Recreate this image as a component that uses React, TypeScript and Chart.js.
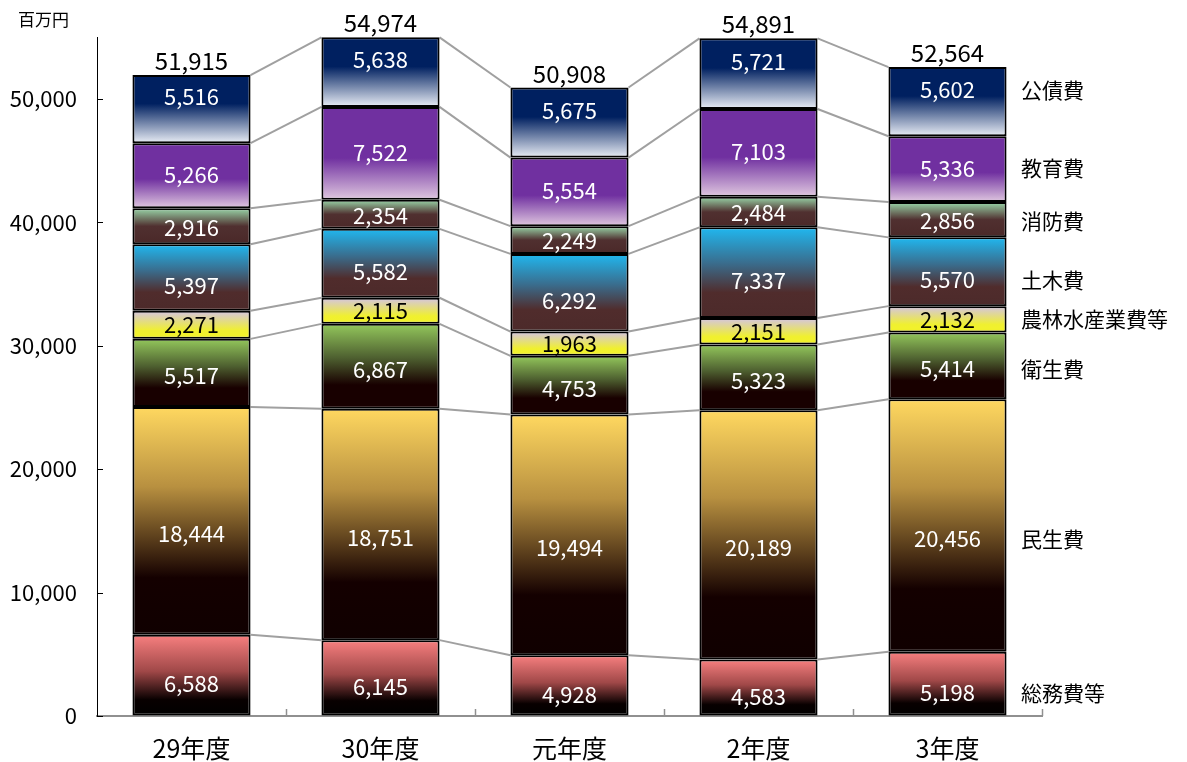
import React, { useEffect, useRef } from 'react';
import { Chart, registerables } from 'chart.js';

Chart.register(...registerables);

// ---- data ----
const CATEGORIES = ['29年度', '30年度', '元年度', '2年度', '3年度'];
const SOUMU = [6588, 6145, 4928, 4583, 5198];        // 総務費等
const MINSEI = [18444, 18751, 19494, 20189, 20456];  // 民生費
const EISEI = [5517, 6867, 4753, 5323, 5414];        // 衛生費
const NOURIN = [2271, 2115, 1963, 2151, 2132];       // 農林水産業費等
const DOBOKU = [5397, 5582, 6292, 7337, 5570];       // 土木費
const SHOUBOU = [2916, 2354, 2249, 2484, 2856];      // 消防費
const KYOUIKU = [5266, 7522, 5554, 7103, 5336];      // 教育費
const KOUSAI = [5516, 5638, 5675, 5721, 5602];       // 公債費
const TOTALS = [51915, 54974, 50908, 54891, 52564];
const SERIES_NAMES = ['総務費等', '民生費', '衛生費', '農林水産業費等', '土木費', '消防費', '教育費', '公債費'];
const SERIES_VALUES = [SOUMU, MINSEI, EISEI, NOURIN, DOBOKU, SHOUBOU, KYOUIKU, KOUSAI];
const Y_TICKS = [0, 10000, 20000, 30000, 40000, 50000];
const Y_MAX = 55000;
const UNIT_LABEL = '百万円';

// ---- styles ----
const FONT = "'Noto Sans CJK JP', 'Noto Sans', sans-serif";
const GRADIENTS: [number, string][][] = [
  [[0, '#f88080'], [0.45, '#a04848'], [0.8, '#080000'], [1, '#000000']],
  [[0, '#ffd860'], [0.35, '#b89040'], [0.75, '#140000'], [1, '#100000']],
  [[0, '#94c85c'], [0.4, '#4e6030'], [0.72, '#180000'], [1, '#180000']],
  [[0, '#d4c4e4'], [0.7, '#f0f030'], [1, '#f2f228']],
  [[0, '#20b8f0'], [0.4, '#3a6c8c'], [0.72, '#502c2c'], [1, '#4c2a2a']],
  [[0, '#9ad8aa'], [0.5, '#503030'], [1, '#4a2828']],
  [[0, '#7030a0'], [0.55, '#7030a0'], [1, '#e0c8e0']],
  [[0, '#002060'], [0.42, '#002060'], [1, '#eaeef6']],
];
const SOLID = ['#c05050', '#806020', '#406020', '#f0f030', '#2080b0', '#503030', '#7030a0', '#002060'];
const LABEL_COLORS = ['#ffffff', '#ffffff', '#ffffff', '#000000', '#ffffff', '#ffffff', '#ffffff', '#ffffff'];
const LABEL_NUDGE = [9, 13, 3, 0, 8, 1, -1, -12];

const fmt = (v: number) => v.toLocaleString('en-US');

function baseOf(ds: number, i: number) {
  let s = 0;
  for (let k = 0; k < ds; k++) s += SERIES_VALUES[k][i];
  return s;
}

const overlayPlugin = {
  id: 'overlay',
  beforeDatasetsDraw(chart: any) {
    const ctx = chart.ctx;
    const n = CATEGORIES.length;
    ctx.save();
    ctx.strokeStyle = '#a0a0a0';
    ctx.lineWidth = 2;
    for (let d = 0; d < SERIES_VALUES.length; d++) {
      const meta = chart.getDatasetMeta(d);
      for (let i = 0; i < n - 1; i++) {
        const a = meta.data[i];
        const b = meta.data[i + 1];
        ctx.beginPath();
        ctx.moveTo(a.x + a.width / 2, a.y);
        ctx.lineTo(b.x - b.width / 2, b.y);
        ctx.stroke();
      }
    }
    ctx.restore();
  },
  afterDatasetsDraw(chart: any) {
    const ctx = chart.ctx;
    const area = chart.chartArea;
    const y = chart.scales.y;
    const n = CATEGORIES.length;
    ctx.save();
    // in-bar labels
    ctx.textAlign = 'center';
    ctx.textBaseline = 'middle';
    ctx.font = `22px ${FONT}`;
    for (let d = 0; d < SERIES_VALUES.length; d++) {
      const meta = chart.getDatasetMeta(d);
      for (let i = 0; i < n; i++) {
        const el = meta.data[i];
        const mid = (el.y + el.base) / 2 + LABEL_NUDGE[d];
        ctx.fillStyle = LABEL_COLORS[d];
        ctx.fillText(fmt(SERIES_VALUES[d][i]), el.x, mid);
      }
    }
    // totals
    ctx.fillStyle = '#000000';
    ctx.font = `24px ${FONT}`;
    const topMeta = chart.getDatasetMeta(SERIES_VALUES.length - 1);
    for (let i = 0; i < n; i++) {
      const el = topMeta.data[i];
      ctx.fillText(fmt(TOTALS[i]), el.x, y.getPixelForValue(TOTALS[i]) - 14);
    }
    // right-side series names
    ctx.textAlign = 'left';
    ctx.font = `21px ${FONT}`;
    for (let d = 0; d < SERIES_VALUES.length; d++) {
      const el = chart.getDatasetMeta(d).data[n - 1];
      const mid = (el.y + el.base) / 2 + LABEL_NUDGE[d];
      ctx.fillText(SERIES_NAMES[d], area.right - 21, mid);
    }
    // unit label
    ctx.font = `17px ${FONT}`;
    ctx.textAlign = 'left';
    ctx.fillText(UNIT_LABEL, 18, 20);
    // y inner ticks
    ctx.strokeStyle = '#000000';
    ctx.lineWidth = 1;
    for (const v of Y_TICKS) {
      const py = Math.round(y.getPixelForValue(v)) + 0.5;
      ctx.beginPath();
      ctx.moveTo(area.left, py);
      ctx.lineTo(area.left + 6, py);
      ctx.stroke();
    }
    // x inner ticks at category boundaries
    ctx.strokeStyle = '#909090';
    ctx.lineWidth = 1.5;
    for (let k = 1; k <= n; k++) {
      const px = Math.round(area.left + (k * (area.right - area.left)) / n) + 0.5;
      ctx.beginPath();
      ctx.moveTo(px, area.bottom);
      ctx.lineTo(px, area.bottom - 7);
      ctx.stroke();
    }
    ctx.restore();
  },
};

export default function App() {
  const ref = useRef<HTMLCanvasElement | null>(null);
  useEffect(() => {
    if (!ref.current) return;
    const datasets = SERIES_VALUES.map((vals, d) => ({
      label: SERIES_NAMES[d],
      data: vals,
      borderColor: '#000000',
      borderWidth: 2,
      borderSkipped: false,
      barPercentage: 0.625,
      categoryPercentage: 1,
      backgroundColor: (c: any) => {
        const chart = c.chart;
        if (c.dataIndex === undefined || !chart.chartArea || !chart.scales?.y) return SOLID[d];
        const ys = chart.scales.y;
        const b = baseOf(d, c.dataIndex);
        const t = b + vals[c.dataIndex];
        const y0 = ys.getPixelForValue(t);
        const y1 = ys.getPixelForValue(b);
        if (!isFinite(y0) || !isFinite(y1) || y0 === y1) return SOLID[d];
        const g = chart.ctx.createLinearGradient(0, y0, 0, y1);
        GRADIENTS[d].forEach(([o, col]) => g.addColorStop(o, col));
        return g;
      },
    }));
    const chart = new Chart(ref.current, {
      type: 'bar',
      data: { labels: CATEGORIES, datasets },
      options: {
        responsive: false,
        animation: false,
        devicePixelRatio: 1,
        layout: { padding: { left: 0, right: 145, top: 37, bottom: 0 } },
        plugins: { legend: { display: false }, tooltip: { enabled: false } },
        scales: {
          x: {
            stacked: true,
            grid: { display: true, drawOnChartArea: false, drawTicks: false },
            border: { display: true, color: '#909090', width: 2 },
            ticks: { color: '#000000', font: { family: FONT, size: 25 }, padding: 17 },
            afterFit: (s: any) => { s.height = 46; },
          },
          y: {
            stacked: true,
            min: 0,
            max: Y_MAX,
            grid: { display: true, drawOnChartArea: false, drawTicks: false },
            border: { display: true, color: '#000000', width: 1 },
            afterBuildTicks: (s: any) => { s.ticks = Y_TICKS.map((v) => ({ value: v })); },
            ticks: {
              color: '#000000',
              font: { family: FONT, size: 22 },
              padding: 20,
              callback: (v: any) => fmt(Number(v)),
            },
            afterFit: (s: any) => { s.width = 97; },
          },
        },
      },
      plugins: [overlayPlugin],
    });
    return () => chart.destroy();
  }, []);
  return (
    <div style={{ position: 'fixed', left: 0, top: 0, width: 1187, height: 762, background: '#ffffff' }}>
      <canvas ref={ref} width={1187} height={762} style={{ width: 1187, height: 762, display: 'block' }} />
    </div>
  );
}
